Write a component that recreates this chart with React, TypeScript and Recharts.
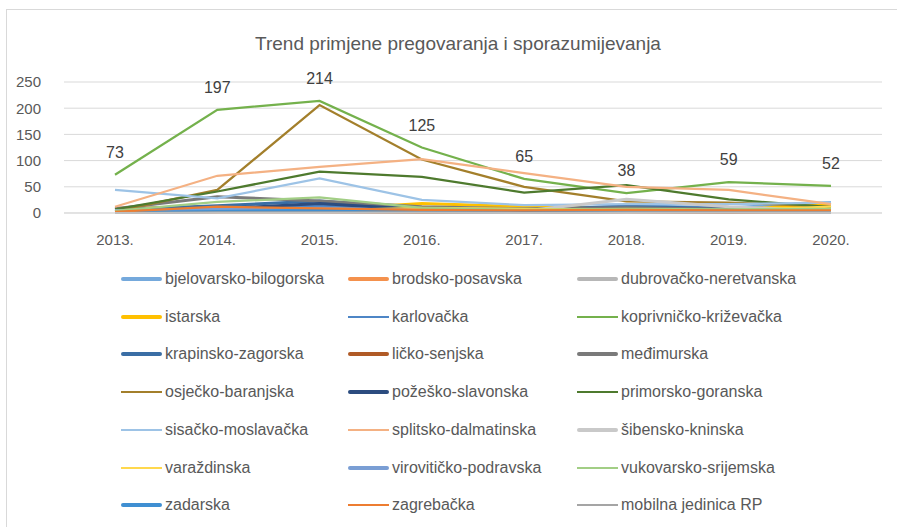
import { LineChart, Line, XAxis, YAxis, CartesianGrid, LabelList } from "recharts";

const YEARS = ["2013.", "2014.", "2015.", "2016.", "2017.", "2018.", "2019.", "2020."];

const BJELOVARSKO = [3, 8, 10, 5, 4, 14, 10, 20];
const BRODSKO = [9, 12, 8, 6, 5, 6, 5, 6];
const DUBROVACKO = [2, 4, 3, 2, 2, 3, 2, 3];
const ISTARSKA = [2, 5, 6, 18, 12, 8, 6, 17];
const KARLOVACKA = [4, 10, 14, 6, 5, 6, 5, 6];
const KOPRIVNICKO = [73, 197, 214, 125, 65, 38, 59, 52];
const KRAPINSKO = [6, 14, 23, 8, 6, 13, 8, 5];
const LICKO = [1, 2, 2, 1, 1, 2, 1, 2];
const MEDIMURSKA = [8, 31, 23, 12, 8, 10, 7, 6];
const OSJECKO = [3, 44, 206, 102, 50, 22, 20, 12];
const POZESKO = [3, 8, 18, 6, 4, 5, 4, 3];
const PRIMORSKO = [7, 41, 79, 69, 39, 53, 26, 11];
const SISACKO = [44, 28, 66, 25, 15, 17, 17, 20];
const SPLITSKO = [12, 71, 88, 103, 76, 50, 44, 17];
const SIBENSKO = [3, 5, 4, 3, 4, 26, 12, 4];
const VARAZDINSKA = [2, 4, 5, 10, 8, 6, 5, 12];
const VIROVITICKO = [5, 7, 9, 5, 4, 6, 5, 4];
const VUKOVARSKO = [4, 21, 30, 10, 6, 8, 7, 8];
const ZADARSKA = [1, 3, 5, 3, 2, 5, 4, 2];
const ZAGREBACKA = [2, 12, 9, 6, 5, 6, 5, 5];
const MOBILNA = [0, 1, 1, 1, 0, 1, 1, 1];

const SERIES = [
  { key: "bjelovarsko-bilogorska", values: BJELOVARSKO, color: "#75A9DC", thick: true },
  { key: "brodsko-posavska", values: BRODSKO, color: "#F4914D", thick: true },
  { key: "dubrovačko-neretvanska", values: DUBROVACKO, color: "#B7B7B7", thick: true },
  { key: "istarska", values: ISTARSKA, color: "#FFC000", thick: true },
  { key: "karlovačka", values: KARLOVACKA, color: "#4E86C6", thick: false },
  { key: "koprivničko-križevačka", values: KOPRIVNICKO, color: "#74B14C", thick: false },
  { key: "krapinsko-zagorska", values: KRAPINSKO, color: "#3A6EA5", thick: true },
  { key: "ličko-senjska", values: LICKO, color: "#B05A26", thick: true },
  { key: "međimurska", values: MEDIMURSKA, color: "#7A7A7A", thick: true },
  { key: "osječko-baranjska", values: OSJECKO, color: "#A37F2B", thick: false },
  { key: "požeško-slavonska", values: POZESKO, color: "#2C4C7F", thick: true },
  { key: "primorsko-goranska", values: PRIMORSKO, color: "#4E7A2E", thick: false },
  { key: "sisačko-moslavačka", values: SISACKO, color: "#9DC3E6", thick: false },
  { key: "splitsko-dalmatinska", values: SPLITSKO, color: "#F4B183", thick: false },
  { key: "šibensko-kninska", values: SIBENSKO, color: "#C9C9C9", thick: true },
  { key: "varaždinska", values: VARAZDINSKA, color: "#FFD84D", thick: false },
  { key: "virovitičko-podravska", values: VIROVITICKO, color: "#7A9ED4", thick: true },
  { key: "vukovarsko-srijemska", values: VUKOVARSKO, color: "#A2CE85", thick: false },
  { key: "zadarska", values: ZADARSKA, color: "#3F8FD2", thick: true },
  { key: "zagrebačka", values: ZAGREBACKA, color: "#ED7D31", thick: false },
  { key: "mobilna jedinica RP", values: MOBILNA, color: "#A5A5A5", thick: false },
];

const LABELED = "koprivničko-križevačka";
const FONT = "'Liberation Sans', Arial, sans-serif";
const TEXT = "#595959";

const data = YEARS.map((year, i) => {
  const row: Record<string, string | number> = { year };
  SERIES.forEach((s) => {
    row[s.key] = s.values[i];
  });
  return row;
});

function ChartLegend() {
  const colX = [121, 348, 577];
  return (
    <>
      {SERIES.map((s, i) => {
        const col = i % 3;
        const row = Math.floor(i / 3);
        return (
          <div
            key={s.key}
            style={{
              position: "absolute",
              left: colX[col],
              top: 279 + row * 37.7 - 10,
              height: 20,
              display: "flex",
              alignItems: "center",
              fontFamily: FONT,
              fontSize: 16,
              color: TEXT,
              whiteSpace: "nowrap",
            }}
          >
            <span
              style={{
                display: "inline-block",
                width: 41,
                height: s.thick ? 4 : 2,
                borderRadius: s.thick ? 2 : 0,
                background: s.color,
                marginRight: 3,
              }}
            />
            {s.key}
          </div>
        );
      })}
    </>
  );
}

export default function App() {
  return (
    <div
      style={{
        position: "absolute",
        left: 0,
        top: 0,
        width: 897,
        height: 527,
        overflow: "hidden",
        background: "#fff",
      }}
    >
      <div
        style={{
          position: "absolute",
          left: 6,
          top: 9,
          width: 920,
          height: 540,
          border: "1px solid #D9D9D9",
        }}
      />
      <div
        style={{
          position: "absolute",
          left: 0,
          top: 33,
          width: 916,
          textAlign: "center",
          fontFamily: FONT,
          fontSize: 19,
          color: TEXT,
        }}
      >
        Trend primjene pregovaranja i sporazumijevanja
      </div>
      <div style={{ position: "absolute", left: 0, top: 0 }}>
        <LineChart
          width={897}
          height={527}
          data={data}
          margin={{ top: 82, right: 15, left: 0, bottom: 284 }}
        >
          <CartesianGrid vertical={false} stroke="#D9D9D9" strokeWidth={1} />
          <XAxis
            dataKey="year"
            height={30}
            padding={{ left: 51, right: 51 }}
            tickLine={false}
            axisLine={{ stroke: "#D9D9D9" }}
            tick={{ fill: TEXT, fontSize: 15, fontFamily: FONT }}
            tickMargin={15}
          />
          <YAxis
            width={64}
            domain={[0, 250]}
            ticks={[0, 50, 100, 150, 200, 250]}
            axisLine={false}
            tickLine={false}
            tickMargin={17}
            tick={{ fill: TEXT, fontSize: 15, fontFamily: FONT }}
          />
          {SERIES.map((s) => (
            <Line
              key={s.key}
              dataKey={s.key}
              type="linear"
              stroke={s.color}
              strokeWidth={s.thick ? 3 : 2.25}
              dot={false}
              activeDot={false}
              isAnimationActive={false}
            >
              {s.key === LABELED && (
                <LabelList
                  dataKey={s.key}
                  position="top"
                  offset={17}
                  fill="#404040"
                  fontSize={16}
                  fontFamily={FONT}
                />
              )}
            </Line>
          ))}
        </LineChart>
      </div>
      <ChartLegend />
    </div>
  );
}
